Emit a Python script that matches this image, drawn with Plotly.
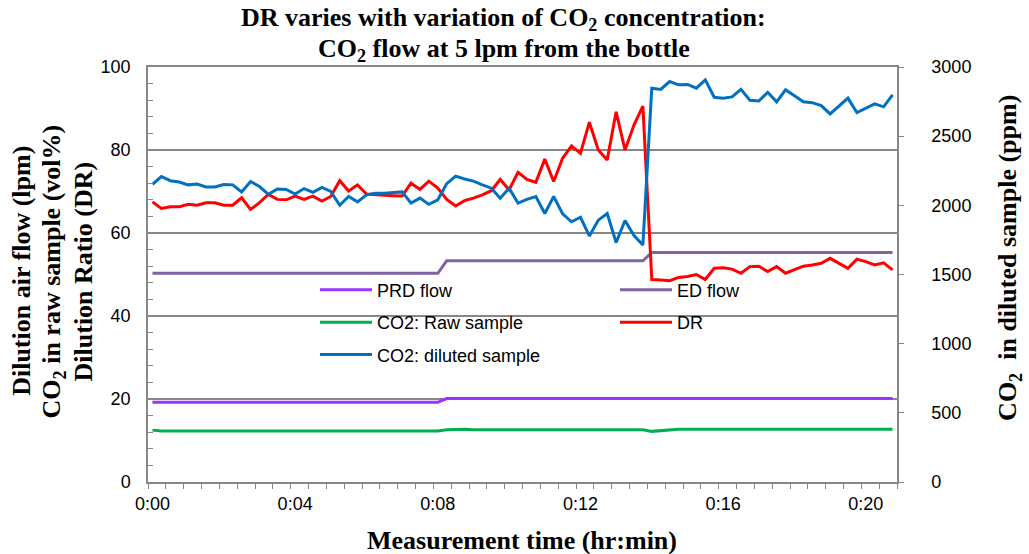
import plotly.graph_objects as go

# Measurement time in minutes (one reading every 15 s)
time_min = [i * 0.25 for i in range(84)]

prd_flow = [
    19.2, 19.2, 19.2, 19.2, 19.2, 19.2, 19.2, 19.2, 19.2, 19.2, 19.2, 19.2, 19.2, 19.2, 19.2, 19.2,
    19.2, 19.2, 19.2, 19.2, 19.2, 19.2, 19.2, 19.2, 19.2, 19.2, 19.2, 19.2, 19.2, 19.2, 19.2, 19.2,
    19.2, 20.1, 20.1, 20.1, 20.1, 20.1, 20.1, 20.1, 20.1, 20.1, 20.1, 20.1, 20.1, 20.1, 20.1, 20.1,
    20.1, 20.1, 20.1, 20.1, 20.1, 20.1, 20.1, 20.1, 20.1, 20.1, 20.1, 20.1, 20.1, 20.1, 20.1, 20.1,
    20.1, 20.1, 20.1, 20.1, 20.1, 20.1, 20.1, 20.1, 20.1, 20.1, 20.1, 20.1, 20.1, 20.1, 20.1, 20.1,
    20.1, 20.1, 20.1, 20.1]

ed_flow = [
    50.3, 50.3, 50.3, 50.3, 50.3, 50.3, 50.3, 50.3, 50.3, 50.3, 50.3, 50.3, 50.3, 50.3, 50.3, 50.3,
    50.3, 50.3, 50.3, 50.3, 50.3, 50.3, 50.3, 50.3, 50.3, 50.3, 50.3, 50.3, 50.3, 50.3, 50.3, 50.3,
    50.3, 53.3, 53.3, 53.3, 53.3, 53.3, 53.3, 53.3, 53.3, 53.3, 53.3, 53.3, 53.3, 53.3, 53.3, 53.3,
    53.3, 53.3, 53.3, 53.3, 53.3, 53.3, 53.3, 53.3, 55.3, 55.3, 55.3, 55.3, 55.3, 55.3, 55.3, 55.3,
    55.3, 55.3, 55.3, 55.3, 55.3, 55.3, 55.3, 55.3, 55.3, 55.3, 55.3, 55.3, 55.3, 55.3, 55.3, 55.3,
    55.3, 55.3, 55.3, 55.3]

co2_raw = [
    12.5, 12.3, 12.3, 12.3, 12.3, 12.3, 12.3, 12.3, 12.3, 12.3, 12.3, 12.3, 12.3, 12.3, 12.3, 12.3,
    12.3, 12.3, 12.3, 12.3, 12.3, 12.3, 12.3, 12.3, 12.3, 12.3, 12.3, 12.3, 12.3, 12.3, 12.3, 12.3,
    12.3, 12.6, 12.7, 12.7, 12.6, 12.6, 12.6, 12.6, 12.6, 12.6, 12.6, 12.6, 12.6, 12.6, 12.6, 12.6,
    12.6, 12.6, 12.6, 12.6, 12.6, 12.6, 12.6, 12.6, 12.2, 12.4, 12.6, 12.7, 12.7, 12.7, 12.7, 12.7,
    12.7, 12.7, 12.7, 12.7, 12.7, 12.7, 12.7, 12.7, 12.7, 12.7, 12.7, 12.7, 12.7, 12.7, 12.7, 12.7,
    12.7, 12.7, 12.7, 12.7]

dilution_ratio = [
    67.5, 65.9, 66.3, 66.3, 66.9, 66.7, 67.3, 67.3, 66.7, 66.7, 68.5, 65.7, 67.3, 69.3, 68.1, 68.0,
    68.9, 68.1, 68.9, 67.7, 68.8, 72.6, 70.1, 71.6, 69.4, 69.2, 69.1, 69.0, 68.9, 72.0, 70.5, 72.5,
    70.8, 68.1, 66.5, 67.8, 68.4, 69.2, 70.2, 72.9, 70.4, 74.6, 72.9, 72.2, 77.8, 72.4, 78.0, 81.0,
    79.2, 86.7, 80.0, 77.6, 89.2, 80.0, 86.0, 90.6, 48.8, 48.7, 48.5, 49.3, 49.5, 50.0, 48.8, 51.5,
    51.6, 51.3, 50.3, 51.9, 52.0, 50.7, 51.9, 50.3, 51.1, 52.0, 52.3, 52.7, 53.9, 52.7, 51.5, 53.7,
    53.1, 52.3, 52.8, 51.1]

co2_diluted_ppm = [
    2151, 2208, 2178, 2169, 2148, 2154, 2133, 2133, 2151, 2148, 2097, 2172, 2136, 2079, 2118, 2115,
    2082, 2121, 2094, 2130, 2100, 2001, 2064, 2025, 2076, 2088, 2088, 2091, 2097, 2016, 2052, 2007,
    2040, 2157, 2211, 2190, 2175, 2148, 2124, 2052, 2124, 2016, 2043, 2064, 1941, 2064, 1938, 1881,
    1914, 1779, 1893, 1941, 1731, 1890, 1782, 1713, 2847, 2838, 2895, 2871, 2874, 2847, 2907, 2781,
    2775, 2784, 2838, 2760, 2754, 2817, 2748, 2835, 2793, 2748, 2742, 2721, 2661, 2718, 2775, 2670,
    2700, 2733, 2712, 2799]

tick_vals = [0, 4, 8, 12, 16, 20]
tick_text = ["0:00", "0:04", "0:08", "0:12", "0:16", "0:20"]

SANS = "Arial, Liberation Sans, sans-serif"
SERIF = "Times New Roman, Liberation Serif, serif"
GRAY = "#868686"

fig = go.Figure()
fig.add_trace(go.Scatter(x=time_min, y=prd_flow, name="PRD flow", mode="lines",
                         line=dict(color="#9933FF", width=3), legend="legend", legendgroup="a"))
fig.add_trace(go.Scatter(x=time_min, y=ed_flow, name="ED flow", mode="lines",
                         line=dict(color="#8064A2", width=3), legend="legend2", legendgroup="b"))
fig.add_trace(go.Scatter(x=time_min, y=co2_raw, name="CO2: Raw sample", mode="lines",
                         line=dict(color="#00B050", width=3), legend="legend", legendgroup="c"))
fig.add_trace(go.Scatter(x=time_min, y=dilution_ratio, name="DR", mode="lines",
                         line=dict(color="#FF0000", width=3), legend="legend2", legendgroup="d"))
fig.add_trace(go.Scatter(x=time_min, y=co2_diluted_ppm, name="CO2: diluted sample", mode="lines",
                         line=dict(color="#0070C0", width=3), yaxis="y2", legend="legend",
                         legendgroup="e"))

legend_common = dict(xanchor="left", yanchor="top", font=dict(family=SANS, size=18, color="black"),
                     itemwidth=52, tracegroupgap=6, bgcolor="rgba(0,0,0,0)", traceorder="grouped")

fig.update_layout(
    width=1029, height=554,
    margin=dict(l=148, r=132, t=67, b=72),
    plot_bgcolor="white", paper_bgcolor="white",
    font=dict(family=SANS, size=18, color="black"),
    legend=dict(x=0.223, y=0.507, **legend_common),
    legend2=dict(x=0.6235, y=0.507, **legend_common),
    xaxis=dict(range=[-0.125, 20.875], tickvals=tick_vals, ticktext=tick_text, ticks="",
               showline=True, linecolor=GRAY, linewidth=1.5, mirror=True, showgrid=False,
               zeroline=False, tickfont=dict(family=SANS, size=18, color="black"),
               ticklabelstandoff=5,
               minor=dict(tick0=-0.125, dtick=0.5, ticks="outside", ticklen=5,
                          tickcolor=GRAY, tickwidth=1, showgrid=False)),
    yaxis=dict(range=[0, 100], dtick=20, ticks="inside", ticklen=5, tickcolor=GRAY,
               showgrid=True, gridcolor=GRAY, gridwidth=1.5, showline=True, linecolor=GRAY,
               linewidth=1.5, zeroline=False, tickfont=dict(family=SANS, size=18, color="black"),
               ticklabelstandoff=12,
               minor=dict(dtick=4, ticks="inside", ticklen=5, tickcolor=GRAY, showgrid=False)),
    yaxis2=dict(range=[0, 3000], dtick=500, overlaying="y", side="right", ticks="outside",
                ticklen=5, tickcolor=GRAY, showgrid=False, showline=True, linecolor=GRAY,
                linewidth=1.5, zeroline=False, tickfont=dict(family=SANS, size=18, color="black"),
                ticklabelstandoff=24),
)

title_font = dict(family=SERIF, size=26, color="black")
annotations = [
    dict(text="<b>DR varies with variation of CO<sub>2</sub> concentration:</b>",
         x=0.4753, y=1.115, xref="paper", yref="paper", xanchor="center", yanchor="middle",
         showarrow=False, font=title_font),
    dict(text="<b>CO<sub>2</sub> flow at 5 lpm from the bottle</b>",
         x=0.4753, y=1.040, xref="paper", yref="paper", xanchor="center", yanchor="middle",
         showarrow=False, font=title_font),
    dict(text="<b>Dilution air flow (lpm)</b>", x=-0.1687, y=0.508, textangle=-90,
         xref="paper", yref="paper", xanchor="center", yanchor="middle", showarrow=False,
         font=title_font),
    dict(text="<b>CO<sub>2</sub> in raw sample (vol%)</b>", x=-0.1265, y=0.508, textangle=-90,
         xref="paper", yref="paper", xanchor="center", yanchor="middle", showarrow=False,
         font=title_font),
    dict(text="<b>Dilution Ratio (DR)</b>", x=-0.0864, y=0.508, textangle=-90,
         xref="paper", yref="paper", xanchor="center", yanchor="middle", showarrow=False,
         font=title_font),
    dict(text="<b>CO<sub>2</sub>&nbsp; in diluted sample (ppm)</b>", x=1.1495, y=0.54,
         textangle=-90, xref="paper", yref="paper", xanchor="center", yanchor="middle",
         showarrow=False, font=title_font),
    dict(text="<b>Measurement time (hr:min)</b>", x=0.4993, y=-0.1398, xref="paper",
         yref="paper", xanchor="center", yanchor="middle", showarrow=False, font=title_font),
]
fig.update_layout(annotations=annotations)

fig.write_html("out.html", config={"displayModeBar": False},
               post_script="document.body.style.margin='0';")
